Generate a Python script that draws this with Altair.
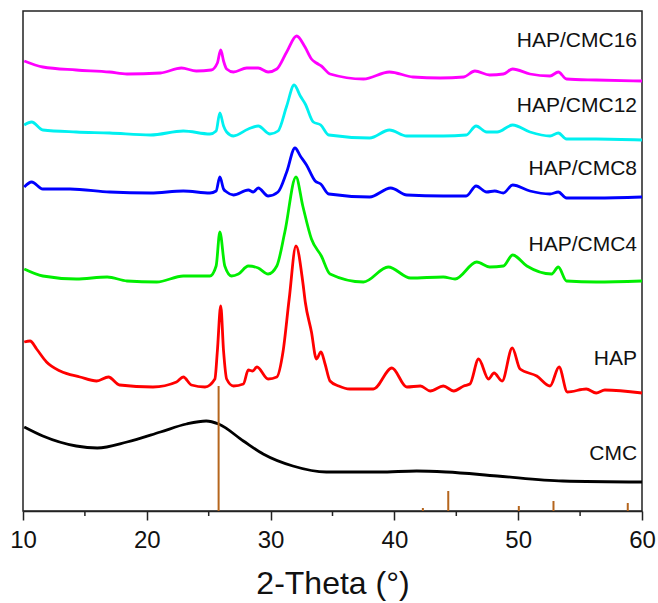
import altair as alt
import pandas as pd

# ---- data (intensity in arbitrary units, curves offset) ----
cmc16_x = [10.1, 11.6, 14.3, 17.0, 18.4, 21.1, 22.8, 24.0, 25.2, 25.7, 25.97, 26.2, 26.45, 27.0, 28.07, 29.0, 29.8, 30.5, 31.3, 32.1, 32.78, 33.3, 33.7, 34.1, 34.8, 37.5, 39.6, 41.5, 43.7, 45.6, 46.5, 47.7, 48.8, 49.55, 50.95, 52.57, 53.24, 53.9, 56.3, 60.0]
cmc16_y = [450, 444, 441, 439, 437, 438, 443, 440, 441, 448, 461, 450, 442, 439, 443, 443, 439, 442, 459, 475, 464, 452, 448, 445, 437, 432, 439, 434, 433, 434, 440, 436, 437, 442, 437, 435, 439, 432, 431, 430]

cmc12_x = [10.1, 10.7, 11.6, 14.3, 17.0, 20.3, 22.95, 25.1, 25.6, 25.9, 26.2, 26.45, 27.0, 28.2, 29.0, 29.95, 30.6, 31.3, 31.9, 32.4, 32.8, 33.45, 34.05, 34.7, 38.0, 39.6, 41.0, 43.95, 45.8, 46.6, 47.45, 48.3, 49.55, 50.95, 52.57, 53.24, 53.9, 56.3, 60.0]
cmc12_y = [386, 389, 381, 379, 378, 376, 380, 377, 380, 398, 385, 379, 375, 382, 385, 377, 380, 405, 426, 415, 407, 389, 386, 376, 373, 381, 375, 375, 376, 385, 379, 379, 386, 379, 375, 378, 372, 372, 371]

cmc8_x = [10.1, 10.7, 11.6, 13.8, 17.0, 20.3, 22.95, 25.1, 25.6, 25.9, 26.2, 26.45, 27.0, 28.2, 28.6, 29.0, 29.8, 30.6, 31.3, 31.97, 32.4, 32.9, 33.6, 34.05, 34.7, 38.0, 39.7, 41.0, 43.95, 45.8, 46.6, 47.45, 48.1, 48.8, 49.55, 50.95, 52.57, 53.24, 53.9, 56.3, 60.0]
cmc8_y = [324, 329, 322, 322, 319, 318, 320, 318, 320, 334, 322, 319, 316, 321, 319, 323, 315, 319, 339, 363, 355, 346, 330, 327, 317, 314, 323, 316, 315, 315, 325, 319, 320, 318, 326, 320, 317, 319, 313, 313, 314]

cmc4_x = [10.1, 11.6, 14.3, 16.8, 18.4, 20.8, 22.95, 25.1, 25.6, 25.9, 26.3, 26.85, 27.4, 28.2, 29.0, 29.8, 30.5, 31.15, 32.05, 32.6, 33.3, 34.1, 34.8, 37.5, 39.5, 41.3, 43.95, 44.9, 46.65, 47.7, 48.8, 49.55, 50.7, 52.7, 53.24, 53.9, 56.3, 60.0]
cmc4_y = [242, 235, 232, 234, 230, 229, 235, 235, 245, 279, 245, 235, 237, 245, 243, 237, 245, 279, 334, 305, 272, 255, 237, 229, 244, 233, 234, 232, 249, 244, 245, 256, 245, 237, 244, 230, 229, 230]

hap_x = [10.1, 10.57, 11.1, 11.9, 13.0, 14.6, 15.95, 16.9, 17.8, 20.5, 22.4, 22.95, 23.6, 24.7, 25.5, 25.7, 25.97, 26.2, 26.45, 27.0, 27.8, 28.2, 28.55, 28.9, 29.8, 30.5, 31.0, 31.5, 32.05, 32.6, 32.8, 33.3, 33.7, 34.07, 34.4, 34.8, 35.5, 36.4, 38.3, 39.8, 41.0, 42.1, 42.9, 43.95, 44.8, 45.6, 46.1, 46.8, 47.6, 48.05, 48.7, 49.52, 50.15, 51.5, 52.57, 53.3, 53.97, 55.5, 56.3, 57.0, 60.0]
hap_y = [169, 170, 162, 149, 140, 134, 130, 134, 126, 124, 129, 134, 126, 124, 132, 160, 205, 160, 132, 125, 127, 141, 140, 144, 132, 134, 159, 212, 265, 229, 209, 179, 152, 159, 147, 130, 125, 122, 122, 143, 124, 125, 120, 125, 120, 125, 127, 152, 132, 138, 130, 163, 142, 135, 125, 144, 119, 122, 118, 121, 118]

cmc_x = [10.1, 11.6, 14.3, 16.0, 18.4, 21.1, 23.2, 24.8, 25.8, 27.8, 29.4, 31.8, 34.5, 38.8, 41.8, 44.2, 48.3, 53.6, 60.0]
cmc_y = [84, 75, 65, 63, 69, 79, 87, 90, 87, 70, 57, 45, 39, 39, 40, 39, 35, 30, 29]

series_names = ["HAP/CMC16", "HAP/CMC12", "HAP/CMC8", "HAP/CMC4", "HAP", "CMC"]
series_colors = ["#ff00ff", "#00f0f0", "#0000ff", "#00ee00", "#ff0000", "#000000"]

# reference (standard) pattern lines
ref_x = [25.8, 42.3, 44.35, 50.05, 52.85, 58.85]
ref_h = [125, 3, 20, 5, 10, 8]

# curve labels: anchor x (right edge) and y
label_x = [59.6, 59.6, 59.6, 59.6, 59.6, 59.6]
label_y = [470, 405, 342, 266, 152, 57]

x_ticks = [10, 20, 30, 40, 50, 60]
minor_ticks = [15, 25, 35, 45, 55]

# ---- build tables ----
rows = []
all_x = [cmc16_x, cmc12_x, cmc8_x, cmc4_x, hap_x, cmc_x]
all_y = [cmc16_y, cmc12_y, cmc8_y, cmc4_y, hap_y, cmc_y]
for name, xs, ys in zip(series_names, all_x, all_y):
    for i, (a, b) in enumerate(zip(xs, ys)):
        rows.append({"series": name, "theta": a, "intensity": b, "order": i})
curves = pd.DataFrame(rows)
refs = pd.DataFrame({"theta": ref_x, "h": ref_h, "zero": [0] * len(ref_x)})
labels = pd.DataFrame({"label": series_names, "lx": label_x, "ly": label_y})
minor = pd.DataFrame({"t": minor_ticks})

FONT = "Liberation Sans"
xscale = alt.Scale(domain=[10, 60], nice=False, zero=False)
yscale = alt.Scale(domain=[0, 500], nice=False, zero=False)

lines = alt.Chart(curves).mark_line(strokeWidth=2.8, interpolate="monotone").encode(
    x=alt.X("theta:Q", scale=xscale,
            axis=alt.Axis(values=x_ticks, title="2-Theta (°)", grid=False,
                          tickSize=9, tickColor="#222", tickWidth=1.5,
                          domainColor="#222", domainWidth=1.5,
                          labelFontSize=24, labelFont=FONT, labelColor="#111",
                          labelPadding=8, titleFontSize=32, titleFont=FONT,
                          titleFontWeight="normal", titleColor="#111",
                          titlePadding=16, labelFlush=False)),
    y=alt.Y("intensity:Q", scale=yscale, axis=None),
    color=alt.Color("series:N", scale=alt.Scale(domain=series_names, range=series_colors), legend=None),
    order="order:Q",
)

ref_rules = alt.Chart(refs).mark_rule(color="#b5651d", strokeWidth=2).encode(
    x=alt.X("theta:Q", scale=xscale),
    y=alt.Y("zero:Q", scale=yscale),
    y2="h:Q",
)

minor_rules = alt.Chart(minor).mark_rule(color="#222", strokeWidth=1.5).encode(
    x=alt.X("t:Q", scale=xscale),
    y=alt.value(500),
    y2=alt.value(505),
)

texts = alt.Chart(labels).mark_text(align="right", baseline="middle", fontSize=21,
                                    font=FONT, color="#111").encode(
    x=alt.X("lx:Q", scale=xscale),
    y=alt.Y("ly:Q", scale=yscale),
    text="label:N",
)

chart = alt.layer(lines, ref_rules, minor_rules, texts).properties(
    width=619, height=500,
    autosize=alt.AutoSizeParams(type="none"),
    padding={"left": 23, "top": 11, "right": 16, "bottom": 92},
    background="white",
).configure_view(stroke="#222", strokeWidth=1.5)

chart.save("out.html", embed_options={"renderer": "svg", "actions": False})
